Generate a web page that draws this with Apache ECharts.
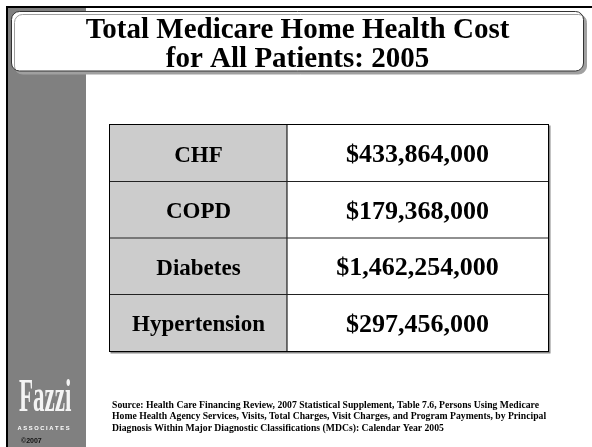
<!DOCTYPE html>
<html>
<head>
<meta charset="utf-8">
<script src="https://cdn.jsdelivr.net/npm/echarts@6/dist/echarts.min.js"></script>
<style>html,body{margin:0;padding:0;background:#fff;}#c{width:592px;height:447px;}</style>
</head>
<body>
<div id="c"></div>
<script>
// ---- data ----
var titleLines = ['Total Medicare Home Health Cost', 'for All Patients: 2005'];
var categories = ['CHF', 'COPD', 'Diabetes', 'Hypertension'];
var costs = [433864000, 179368000, 1462254000, 297456000];
var sourceLines = [
  'Source: Health Care Financing Review, 2007 Statistical Supplement, Table 7.6, Persons Using Medicare',
  'Home Health Agency Services, Visits, Total Charges, Visit Charges, and Program Payments, by Principal',
  'Diagnosis Within Major Diagnostic Classifications (MDCs): Calendar Year 2005'
];

function money(v) { return '$' + v.toLocaleString('en-US'); }

var SERIF = '"Liberation Serif", "Times New Roman", serif';
var SANS = '"Liberation Sans", Arial, sans-serif';
var SPLIT = 0.404; // column split as fraction of table width

var chart = echarts.init(document.getElementById('c'), null, {renderer: 'canvas'});

var graphics = [
  // left grey band
  {type: 'rect', shape: {x: 8, y: 8, width: 78, height: 439}, style: {fill: '#808080'}, z: 0},
  // slide borders
  {type: 'rect', shape: {x: 6, y: 6, width: 586, height: 2}, style: {fill: '#000'}, z: 1},
  {type: 'rect', shape: {x: 6, y: 6, width: 2, height: 441}, style: {fill: '#000'}, z: 1},
  // title box
  {type: 'rect', shape: {x: 11.5, y: 11.5, width: 572, height: 59.5, r: 8},
   style: {fill: '#fff', stroke: '#333', lineWidth: 1, shadowColor: '#a0a0a0', shadowOffsetX: 3, shadowOffsetY: 3, shadowBlur: 0}, z: 2},
  {type: 'text', x: 297.5, y: 30.5, z: 3,
   style: {text: titleLines[0], font: 'bold 29px ' + SERIF, fill: '#000', align: 'center', verticalAlign: 'middle'}},
  {type: 'text', x: 297.5, y: 60, z: 3,
   style: {text: titleLines[1], font: 'bold 29px ' + SERIF, fill: '#000', align: 'center', verticalAlign: 'middle'}},
  // logo
  {type: 'text', x: 19, y: 399, scaleX: 0.5, scaleY: 1.02, z: 3,
   style: {text: 'Fazzi', font: 'bold 46px ' + SERIF, fill: '#f4f4f4', align: 'left', verticalAlign: 'middle'}},
  {type: 'text', x: 43.5, y: 428, z: 3,
   style: {text: 'A S S O C I A T E S', font: 'bold 5.8px ' + SANS, fill: '#fff', align: 'center', verticalAlign: 'middle'}},
  {type: 'text', x: 21, y: 441.5, z: 3,
   style: {text: '\u00a92007', font: 'bold 7px ' + SANS, fill: '#111', align: 'left', verticalAlign: 'middle'}}
];
sourceLines.forEach(function (t, i) {
  graphics.push({type: 'text', x: 112, y: 405 + i * 11.6, z: 3,
    style: {text: t, font: 'bold 9.7px ' + SERIF, fill: '#000', align: 'left', verticalAlign: 'middle'}});
});

chart.setOption({
  animation: false,
  backgroundColor: '#fff',
  grid: {left: 110, right: 44, top: 125, bottom: 96, show: true, borderColor: '#000', borderWidth: 2,
         backgroundColor: 'transparent', shadowColor: '#888', shadowOffsetY: 1.5, shadowOffsetX: 1.5, shadowBlur: 0},
  xAxis: {type: 'value', min: 0, max: 1, show: false},
  yAxis: {type: 'category', data: categories, inverse: true, show: false},
  series: [{
    type: 'custom',
    data: categories.map(function (c, i) { return [i, costs[i]]; }),
    encode: {y: 0},
    z: 5,
    renderItem: function (params, api) {
      var idx = api.value(0);
      var h = api.size([0, 1])[1];
      var left = api.coord([0, idx]);
      var mid = api.coord([SPLIT, idx]);
      var right = api.coord([1, idx]);
      var top = left[1] - h / 2;
      var cy = left[1] + 2.5;
      var children = [
        {type: 'rect', shape: {x: left[0], y: top, width: mid[0] - left[0], height: h}, style: {fill: '#cccccc'}},
        {type: 'rect', shape: {x: mid[0], y: top, width: right[0] - mid[0], height: h}, style: {fill: '#ffffff'}},
        {type: 'line', shape: {x1: mid[0], y1: top, x2: mid[0], y2: top + h}, style: {stroke: '#444', lineWidth: 1.5}},
        {type: 'text', x: (left[0] + mid[0]) / 2, y: cy,
         style: {text: categories[idx], font: 'bold 23px ' + SERIF, fill: '#000', align: 'center', verticalAlign: 'middle'}},
        {type: 'text', x: (mid[0] + right[0]) / 2, y: cy,
         style: {text: money(api.value(1)), font: 'bold 26px ' + SERIF, fill: '#000', align: 'center', verticalAlign: 'middle'}}
      ];
      if (idx > 0) {
        children.push({type: 'line', shape: {x1: left[0], y1: top, x2: right[0], y2: top}, style: {stroke: '#222', lineWidth: 1.2}});
      }
      return {type: 'group', children: children};
    }
  }],
  graphic: graphics
});
</script>
</body>
</html>
